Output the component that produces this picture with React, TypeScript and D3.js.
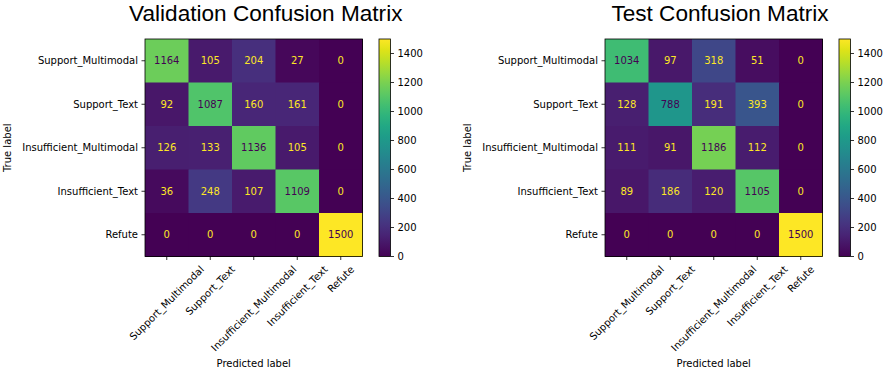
import React, { useRef, useEffect } from "react";
import * as d3 from "d3";

const labels = [
  "Support_Multimodal",
  "Support_Text",
  "Insufficient_Multimodal",
  "Insufficient_Text",
  "Refute",
];

const valMatrix = [
  [1164, 105, 204, 27, 0],
  [92, 1087, 160, 161, 0],
  [126, 133, 1136, 105, 0],
  [36, 248, 107, 1109, 0],
  [0, 0, 0, 0, 1500],
];

const testMatrix = [
  [1034, 97, 318, 51, 0],
  [128, 788, 191, 393, 0],
  [111, 91, 1186, 112, 0],
  [89, 186, 120, 1105, 0],
  [0, 0, 0, 0, 1500],
];

const cbarTicks = [0, 200, 400, 600, 800, 1000, 1200, 1400];

const panels = [
  { title: "Validation Confusion Matrix", data: valMatrix, left: 145, titleX: 265.8 },
  { title: "Test Confusion Matrix", data: testMatrix, left: 605, titleX: 720 },
];

const FONT = "DejaVu Sans, sans-serif";

const App = () => {
  const svgRef = useRef<SVGSVGElement>(null);

  useEffect(() => {
    const svg = d3.select(svgRef.current);
    svg.selectAll("*").remove();

    const top = 39;
    const size = 217.5;
    const vmax = 1500;
    const color = d3.scaleSequential(d3.interpolateViridis).domain([0, vmax]);

    // gradient for the colorbars
    const grad = svg
      .append("defs")
      .append("linearGradient")
      .attr("id", "viridis")
      .attr("x1", 0)
      .attr("y1", 1)
      .attr("x2", 0)
      .attr("y2", 0);
    d3.range(0, 1.0001, 0.05).forEach((t) => {
      grad.append("stop").attr("offset", t).attr("stop-color", d3.interpolateViridis(t));
    });

    panels.forEach((p) => {
      const x = d3.scaleBand().domain(labels).range([p.left, p.left + size]);
      const y = d3.scaleBand().domain(labels).range([top, top + size]);
      const g = svg.append("g");

      // cells
      p.data.forEach((row, i) => {
        row.forEach((v, j) => {
          g.append("rect")
            .attr("x", x(labels[j]))
            .attr("y", y(labels[i]))
            .attr("width", x.bandwidth() + 0.5)
            .attr("height", y.bandwidth() + 0.5)
            .attr("fill", color(v));
          g.append("text")
            .attr("x", x(labels[j]) + x.bandwidth() / 2)
            .attr("y", y(labels[i]) + y.bandwidth() / 2)
            .attr("text-anchor", "middle")
            .attr("dominant-baseline", "central")
            .attr("font-family", FONT)
            .attr("font-size", 10)
            .attr("fill", v < vmax / 2 ? "#fde725" : "#440154")
            .text(v);
        });
      });

      g.append("rect")
        .attr("x", p.left)
        .attr("y", top)
        .attr("width", size)
        .attr("height", size)
        .attr("fill", "none")
        .attr("stroke", "black")
        .attr("stroke-width", 0.8);

      // y ticks
      labels.forEach((l) => {
        const cy = y(l) + y.bandwidth() / 2;
        g.append("line")
          .attr("x1", p.left - 3.5)
          .attr("x2", p.left)
          .attr("y1", cy)
          .attr("y2", cy)
          .attr("stroke", "black")
          .attr("stroke-width", 0.8);
        g.append("text")
          .attr("x", p.left - 7)
          .attr("y", cy)
          .attr("text-anchor", "end")
          .attr("dominant-baseline", "central")
          .attr("font-family", FONT)
          .attr("font-size", 10)
          .text(l);
      });

      // x ticks, rotated 45
      labels.forEach((l) => {
        const cx = x(l) + x.bandwidth() / 2;
        g.append("line")
          .attr("x1", cx)
          .attr("x2", cx)
          .attr("y1", top + size)
          .attr("y2", top + size + 3.5)
          .attr("stroke", "black")
          .attr("stroke-width", 0.8);
        const t = g
          .append("text")
          .attr("text-anchor", "middle")
          .attr("dominant-baseline", "central")
          .attr("font-family", FONT)
          .attr("font-size", 10)
          .text(l);
        const w = (t.node() as SVGTextElement).getComputedTextLength();
        const h = 11.6;
        const half = (w + h) / (2 * Math.SQRT2);
        t.attr("transform", `translate(${cx},${top + size + 7 + half}) rotate(-45)`);
      });

      g.append("text")
        .attr("x", p.left + size / 2)
        .attr("y", 367)
        .attr("text-anchor", "middle")
        .attr("font-family", FONT)
        .attr("font-size", 10)
        .text("Predicted label");

      g.append("text")
        .attr("transform", `translate(${p.left - 134},${top + size / 2}) rotate(-90)`)
        .attr("text-anchor", "middle")
        .attr("font-family", FONT)
        .attr("font-size", 10)
        .text("True label");

      g.append("text")
        .attr("x", p.titleX)
        .attr("y", 21)
        .attr("text-anchor", "middle")
        .attr("font-family", "Liberation Sans, Arial, sans-serif")
        .attr("font-size", 22.6)
        .text(p.title);

      // colorbar
      const cbx = p.left + size + 16.5;
      const cbw = 11.5;
      const cy = d3.scaleLinear().domain([0, vmax]).range([top + size, top]);
      g.append("rect")
        .attr("x", cbx)
        .attr("y", top)
        .attr("width", cbw)
        .attr("height", size)
        .attr("fill", "url(#viridis)")
        .attr("stroke", "black")
        .attr("stroke-width", 0.8);
      cbarTicks.forEach((v) => {
        g.append("line")
          .attr("x1", cbx + cbw)
          .attr("x2", cbx + cbw + 3.5)
          .attr("y1", cy(v))
          .attr("y2", cy(v))
          .attr("stroke", "black")
          .attr("stroke-width", 0.8);
        g.append("text")
          .attr("x", cbx + cbw + 7)
          .attr("y", cy(v))
          .attr("dominant-baseline", "central")
          .attr("font-family", FONT)
          .attr("font-size", 10)
          .text(v);
      });
    });
  }, []);

  return (
    <svg
      ref={svgRef}
      width={890}
      height={377}
      style={{ position: "absolute", left: 0, top: 0, background: "white" }}
    />
  );
};

export default App;
